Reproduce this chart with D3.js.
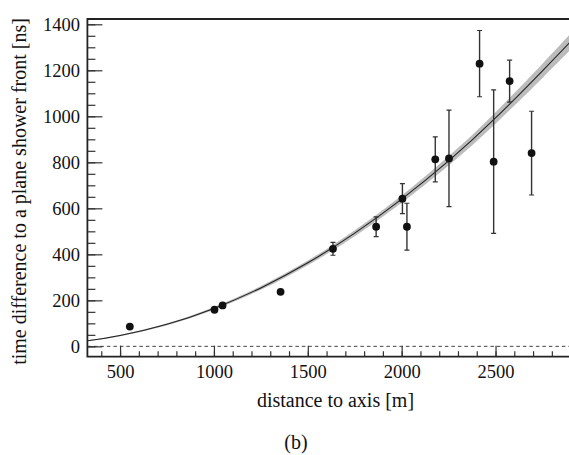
<!DOCTYPE html>
<meta charset="utf-8">
<script src="https://d3js.org/d3.v7.min.js"></script>
<style>
  body { margin: 0; background: #fff; }
  text { font-family: "Liberation Serif", "Times New Roman", serif; fill: #111; }
</style>
<div id="chart"></div>
<script>

// measured stations
var distance = [552, 1003, 1046, 1355, 1634, 1864, 2004, 2028, 2179, 2252, 2415, 2490, 2575, 2692];
var timeDiff = [86, 159, 178, 237, 424, 520, 642, 520, 813, 817, 1229, 803, 1153, 840];
var timeErr  = [0, 0, 0, 0, 28, 43, 65, 102, 98, 210, 144, 312, 91, 182];

// fitted front and its uncertainty band
var fitR    = [326, 500, 750, 1000, 1250, 1500, 1750, 2000, 2250, 2500, 2750, 2894];
var fitT    = [24, 47, 96, 165, 254, 363, 492, 640, 806, 993, 1198, 1320];
var fitBand = [2, 3, 4, 6, 8, 10, 13, 16, 20, 25, 31, 35];

var xTicks = [500, 1000, 1500, 2000, 2500];
var yTicks = [0, 200, 400, 600, 800, 1000, 1200, 1400];

var W = 569, H = 455;
var padL = 87.4, padR = 569.5, padT = 19, padB = 356.7;

var svg = d3.select("#chart").append("svg")
  .attr("width", W).attr("height", H);

var x = d3.scaleLinear().domain([326, 2894]).range([padL, padR]);
var y = d3.scaleLinear().domain([-45, 1423]).range([padB, padT]);

svg.append("clipPath").attr("id", "clip")
  .append("rect").attr("x", padL).attr("y", padT)
  .attr("width", padR - padL).attr("height", padB - padT);

var plot = svg.append("g").attr("clip-path", "url(#clip)");

// zero line
plot.append("line")
  .attr("x1", padL).attr("x2", padR)
  .attr("y1", y(0)).attr("y2", y(0))
  .attr("stroke", "#444").attr("stroke-width", 1)
  .attr("stroke-dasharray", "3.5,3");

var fit = fitR.map(function(r, i) { return {r: r, t: fitT[i], e: fitBand[i]}; });

plot.append("path")
  .datum(fit)
  .attr("fill", "#bcbcbc")
  .attr("d", d3.area()
    .x(function(d) { return x(d.r); })
    .y0(function(d) { return y(d.t - d.e); })
    .y1(function(d) { return y(d.t + d.e); })
    .curve(d3.curveNatural));

plot.append("path")
  .datum(fit)
  .attr("fill", "none")
  .attr("stroke", "#222")
  .attr("stroke-width", 1.1)
  .attr("d", d3.line()
    .x(function(d) { return x(d.r); })
    .y(function(d) { return y(d.t); })
    .curve(d3.curveNatural));

var pts = distance.map(function(r, i) { return {r: r, t: timeDiff[i], e: timeErr[i]}; });
var withErr = pts.filter(function(d) { return d.e > 0; });

plot.selectAll(".err").data(withErr).enter().append("line")
  .attr("x1", function(d) { return x(d.r); })
  .attr("x2", function(d) { return x(d.r); })
  .attr("y1", function(d) { return y(d.t - d.e); })
  .attr("y2", function(d) { return y(d.t + d.e); })
  .attr("stroke", "#333").attr("stroke-width", 1.4);

["lo", "hi"].forEach(function(k) {
  plot.selectAll(".cap" + k).data(withErr).enter().append("line")
    .attr("x1", function(d) { return x(d.r) - 2.5; })
    .attr("x2", function(d) { return x(d.r) + 2.5; })
    .attr("y1", function(d) { return y(k == "lo" ? d.t - d.e : d.t + d.e); })
    .attr("y2", function(d) { return y(k == "lo" ? d.t - d.e : d.t + d.e); })
    .attr("stroke", "#333").attr("stroke-width", 1.2);
});

plot.selectAll(".dot").data(pts).enter().append("circle")
  .attr("cx", function(d) { return x(d.r); })
  .attr("cy", function(d) { return y(d.t); })
  .attr("r", 3.9)
  .attr("fill", "#111");

// axes, ROOT style: ticks pointing inward
svg.append("g").attr("transform", "translate(0," + padB + ")")
  .call(d3.axisBottom(x).tickValues(d3.range(400, 2900, 100)).tickSize(-5.5).tickFormat(""))
  .call(function(g) { g.select(".domain").remove(); });
svg.append("g").attr("transform", "translate(0," + padB + ")")
  .attr("class", "lab")
  .call(d3.axisBottom(x).tickValues(xTicks).tickSize(-11).tickPadding(8)
    .tickFormat(d3.format("d")))
  .call(function(g) { g.select(".domain").remove(); });

svg.append("g").attr("transform", "translate(" + padL + ",0)")
  .call(d3.axisLeft(y).tickValues(d3.range(0, 1450, 50)).tickSize(-8).tickFormat(""))
  .call(function(g) { g.select(".domain").remove(); });
svg.append("g").attr("transform", "translate(" + padL + ",0)")
  .attr("class", "lab")
  .call(d3.axisLeft(y).tickValues(yTicks).tickSize(-15).tickPadding(7.5)
    .tickFormat(d3.format("d")))
  .call(function(g) { g.select(".domain").remove(); });

svg.selectAll(".tick line").attr("stroke", "#333").attr("stroke-width", 1.2);
svg.selectAll(".lab")
  .attr("font-size", 18.5)
  .attr("font-family", "'Liberation Serif', serif");
svg.selectAll(".lab text").attr("fill", "#111");

// frame
svg.append("path")
  .attr("d", "M" + padR + "," + padT + "H" + padL + "V" + padB + "H" + padR)
  .attr("fill", "none").attr("stroke", "#222").attr("stroke-width", 1.8);

svg.append("text")
  .attr("x", 335.5).attr("y", 407)
  .attr("text-anchor", "middle")
  .style("font-size", "20px")
  .text("distance to axis [m]");

svg.append("text")
  .attr("transform", "translate(25.5,191.5) rotate(-90)")
  .attr("text-anchor", "middle")
  .style("font-size", "20px")
  .text("time difference to a plane shower front [ns]");

svg.append("text")
  .attr("x", 296).attr("y", 449)
  .attr("text-anchor", "middle")
  .style("font-size", "20px")
  .text("(b)");

</script>
